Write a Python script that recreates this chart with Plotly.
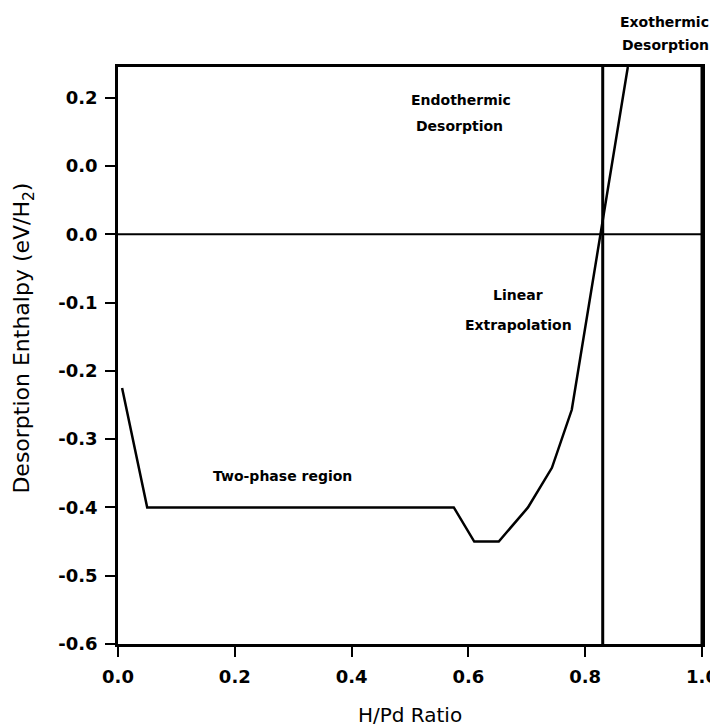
import plotly.graph_objects as go

# Data
curve_x = [0.007, 0.05, 0.575, 0.61, 0.652, 0.702, 0.743, 0.777, 0.873]
curve_y = [-0.225, -0.40, -0.40, -0.45, -0.45, -0.40, -0.342, -0.257, 0.245]

boundary_x = [0.83, 1.0]          # vertical boundary lines
zero_line_x = [-0.017, 1.0]
zero_line_y = [0.0, 0.0]

y_tickvals = [0.2, 0.1, 0.0, -0.1, -0.2, -0.3, -0.4, -0.5, -0.6]
y_ticktext = ["0.2", "0.0", "0.0", "-0.1", "-0.2", "-0.3", "-0.4", "-0.5", "-0.6"]
x_tickvals = [0.0, 0.2, 0.4, 0.6, 0.8, 1.0]
x_ticktext = ["0.0", "0.2", "0.4", "0.6", "0.8", "1.0"]

y_min, y_max = -0.6, 0.245

# annotation lines: (text, x in data, y in paper)
note_text = ["Exothermic", "Desorption", "Endothermic", "Desorption",
             "Linear", "Extrapolation", "Two-phase region"]
note_x = [0.936, 0.938, 0.587, 0.584, 0.685, 0.685, 0.282]
note_y = [1.078, 1.038, 0.942, 0.898, 0.605, 0.553, 0.291]

font_fam = "DejaVu Sans, Verdana, sans-serif"

fig = go.Figure()

fig.add_trace(go.Scatter(x=curve_x, y=curve_y, mode="lines",
                         line=dict(color="black", width=2.5), showlegend=False))

for bx in boundary_x:
    fig.add_trace(go.Scatter(x=[bx, bx], y=[y_min, y_max], mode="lines",
                             line=dict(color="black", width=3), showlegend=False))

fig.add_trace(go.Scatter(x=zero_line_x, y=zero_line_y, mode="lines", cliponaxis=False,
                         line=dict(color="black", width=2), showlegend=False))

for t, ax, ay in zip(note_text, note_x, note_y):
    fig.add_annotation(x=ax, y=ay, xref="x", yref="paper", text="<b>%s</b>" % t,
                       showarrow=False, align="center",
                       xanchor="center", yanchor="middle",
                       font=dict(family=font_fam, size=14, color="black"))

# y-axis title placed as a rotated annotation (slightly above plot centre, as in reference)
fig.add_annotation(x=-0.162, y=0.53, xref="paper", yref="paper",
                   text="Desorption Enthalpy (eV/H<sub>2</sub>)", textangle=-90,
                   showarrow=False, xanchor="center", yanchor="middle",
                   font=dict(family=font_fam, size=22, color="black"))

fig.update_layout(
    width=710, height=719,
    margin=dict(l=110, r=16, t=59, b=83, autoexpand=False),
    paper_bgcolor="white", plot_bgcolor="white",
    font=dict(family=font_fam, color="black"),
    showlegend=False,
)

fig.update_xaxes(
    range=[0.0, 1.0], tickvals=x_tickvals, ticktext=x_ticktext,
    showgrid=False, zeroline=False, automargin=False,
    showline=True, linecolor="black", linewidth=2.5, mirror=True,
    ticks="outside", ticklen=10, tickwidth=2, tickcolor="black",
    ticklabelstandoff=5,
    tickfont=dict(family=font_fam, size=18, color="black", weight="bold"),
    title=dict(text="H/Pd Ratio", font=dict(family=font_fam, size=20), standoff=23),
)
fig.update_yaxes(
    range=[y_min, y_max], tickvals=y_tickvals, ticktext=y_ticktext,
    showgrid=False, zeroline=False, automargin=False,
    showline=True, linecolor="black", linewidth=2.5, mirror=True,
    ticks="outside", ticklen=10, tickwidth=2, tickcolor="black",
    ticklabelstandoff=4,
    tickfont=dict(family=font_fam, size=18, color="black", weight="bold"),
)

fig.write_html("out.html")
